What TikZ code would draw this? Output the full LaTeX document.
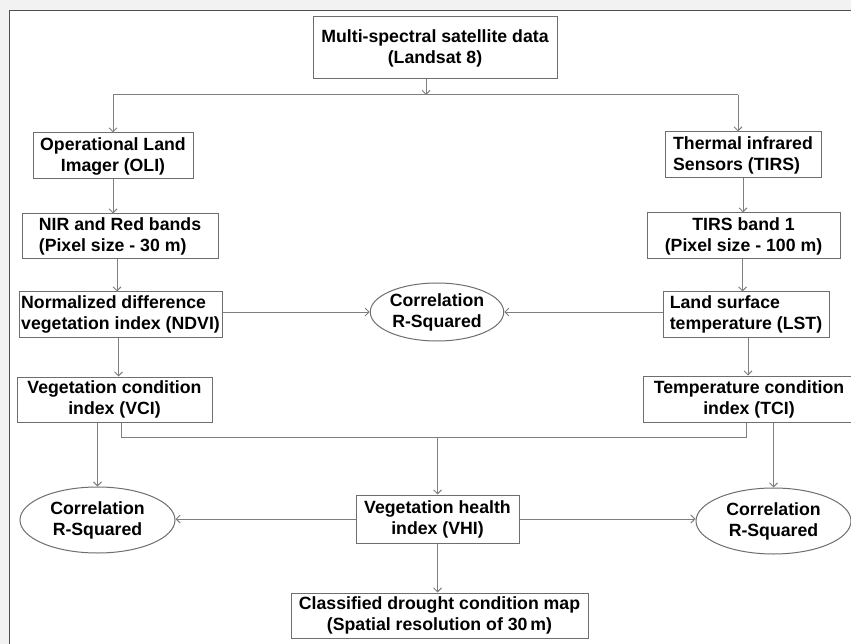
\documentclass[tikz,border=0pt]{standalone}
\usepackage{fontspec}
\setmainfont{Liberation Sans}
\usetikzlibrary{arrows.meta,shapes.geometric}
\definecolor{boxgray}{HTML}{6E6E6E}
\definecolor{linegray}{HTML}{7F7F7F}
\definecolor{framegray}{HTML}{505050}
\definecolor{bggray}{HTML}{F2F2F2}
\begin{document}
\begin{tikzpicture}[x=1pt,y=-1pt,
  every node/.style={font=\bfseries\fontsize{17.7}{21}\selectfont, text=black},
  box/.style={draw=boxgray, line width=1pt, rectangle, inner sep=0pt, fill=white},
  corr/.style={draw=boxgray, line width=1pt, ellipse, inner sep=0pt, align=center, fill=white},
  conn/.style={draw=linegray, line width=1pt},
  arr/.style={conn, -{Straight Barb[length=4pt,width=8pt]}}
]
\useasboundingbox (0,0) rectangle (851,644);
\fill[bggray] (0,0) rectangle (851,644);
\fill[white] (9,11) rectangle (870,660);
\draw[framegray, line width=1pt] (870,11) -- (9,11) -- (9,660);

% nodes
\node[box, minimum width=244, minimum height=62, align=center] (top) at (435,48) {Multi-spectral satellite data\\(Landsat 8)};
\node[box, minimum width=160, minimum height=46, align=center] (oli) at (113,156) {Operational Land\\Imager (OLI)};
\node[box, minimum width=156, minimum height=46, align=left] (tirs) at (743,155) {Thermal infrared\\Sensors (TIRS)};
\node[box, minimum width=196, minimum height=45, align=left] (nir) at (120,236.5) {NIR and Red bands\\(Pixel size - 30 m)};
\node[box, minimum width=193, minimum height=46, align=center] (tirsb) at (743.5,236) {TIRS band 1\\(Pixel size - 100 m)};
\node[box, minimum width=203, minimum height=45, align=left] (ndvi) at (120.5,314.5) {Normalized difference\\vegetation index (NDVI)};
\node[corr, minimum width=122, minimum height=58] (ell1) at (437,312) {Correlation\\R-Squared};
\node[box, minimum width=166, minimum height=45, align=left] (lst) at (746,314.5) {Land surface\\temperature (LST)};
\node[box, minimum width=195, minimum height=45, align=center] (vci) at (114.5,399.5) {Vegetation condition\\index (VCI)};
\node[box, minimum width=212, minimum height=46, align=center] (tci) at (749,399) {Temperature condition\\index (TCI)};
\node[corr, minimum width=155, minimum height=66] (ellL) at (97.5,520) {Correlation\\R-Squared};
\node[box, minimum width=163, minimum height=48, align=center] (vhi) at (437.5,519) {Vegetation health\\index (VHI)};
\node[corr, minimum width=155, minimum height=66] (ellR) at (773.5,521) {Correlation\\R-Squared};
\node[box, minimum width=297, minimum height=45, align=center] (cls) at (439.5,615.5) {Classified drought condition map\\(Spatial resolution of 30\,m)};

% connectors
\coordinate (split) at (426,95);
\coordinate (splitL) at (113,95);
\coordinate (splitR) at (738,95);
\draw[arr] (top.south -| split) -- (split);
\draw[conn] (splitL) -- (splitR);
\draw[arr] (splitL) -- (oli.north -| splitL);
\draw[arr] (splitR) -- (tirs.north -| splitR);

\draw[arr] (oli.south) -- (oli.south |- nir.north);
\draw[arr] ([xshift=-3pt]nir.south) -- ([xshift=-3pt]nir.south |- ndvi.north);
\draw[arr] ([xshift=-2pt]ndvi.south) -- ([xshift=-2pt]ndvi.south |- vci.north);

\draw[arr] (tirs.south) -- (tirs.south |- tirsb.north);
\draw[arr] ([xshift=-1pt]tirsb.south) -- ([xshift=-1pt]tirsb.south |- lst.north);
\draw[arr] ([xshift=2pt]lst.south) -- ([xshift=2pt]lst.south |- tci.north);

\draw[arr] (ell1.west -| ndvi.east) -- (ell1.west);
\draw[arr] (ell1.east -| lst.west) -- (ell1.east);

\coordinate (jL) at (121,437);
\coordinate (jR) at (746,437);
\draw[conn] (vci.south -| jL) -- (jL) -- (jR) -- (tci.south -| jR);
\draw[arr] (vhi.north |- jL) -- (vhi.north);
\draw[arr] (ellL.north |- vci.south) -- (ellL.north);
\draw[arr] (ellR.north |- tci.south) -- (ellR.north);

\draw[arr] (vhi.west) -- (vhi.west -| ellL.east);
\draw[arr] (vhi.east) -- (vhi.east -| ellR.west);
\draw[arr] (vhi.south) -- (vhi.south |- cls.north);
\end{tikzpicture}
\end{document}
